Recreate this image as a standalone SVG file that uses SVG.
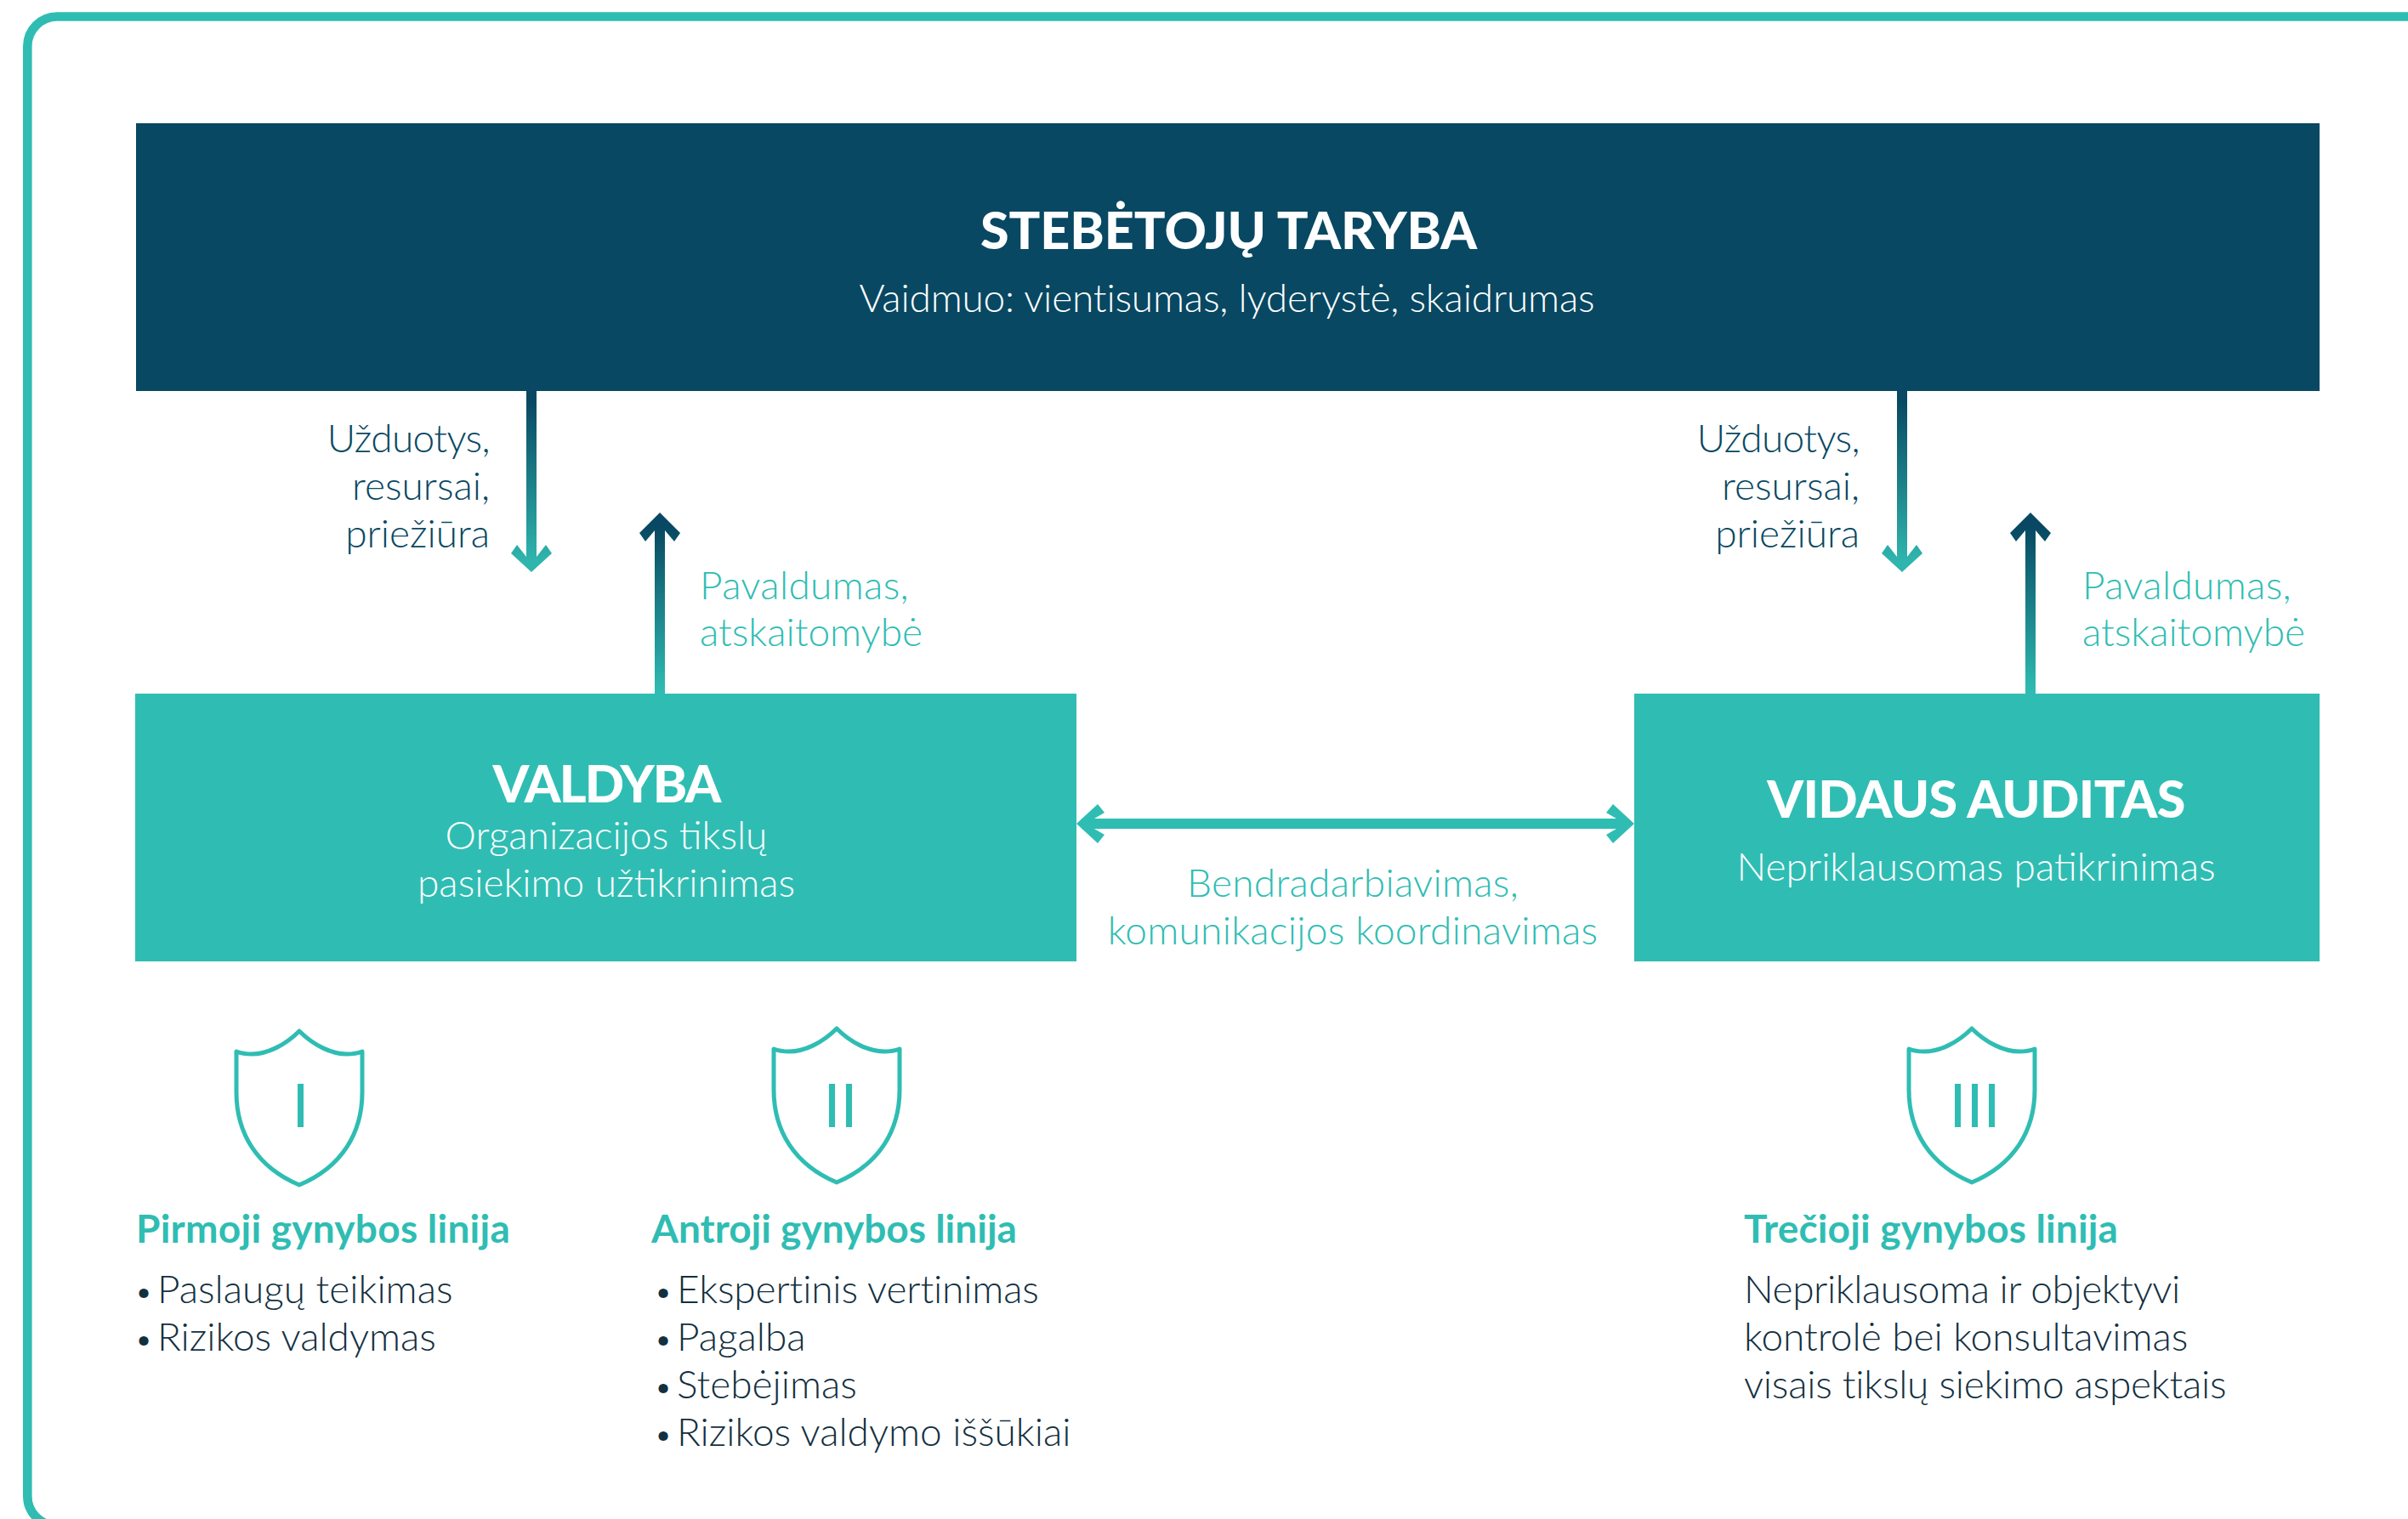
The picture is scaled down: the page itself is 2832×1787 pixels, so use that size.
<svg xmlns="http://www.w3.org/2000/svg" width="2832" height="1787" viewBox="0 0 2832 1787">
<style>
text{font-family:"Lato","Noto Sans",sans-serif;font-weight:300;font-size:46px}
.m{text-anchor:middle}.e{text-anchor:end}
.w{fill:#fff}.t{fill:#2fbdb3}.d{fill:#084862}.k{fill:#13303f}
.title{font-weight:900;font-size:61px}
.h{font-weight:700;font-size:46px}
.b{font-size:38px}
.shield{fill:none;stroke:#2fbdb3;stroke-width:5;stroke-linejoin:round}
</style>
<defs>
<linearGradient id="gd" gradientUnits="userSpaceOnUse" x1="0" y1="470" x2="0" y2="660"><stop offset="0" stop-color="#084862"/><stop offset="1" stop-color="#2fb5ad"/></linearGradient>
<linearGradient id="gu" gradientUnits="userSpaceOnUse" x1="0" y1="620" x2="0" y2="816"><stop offset="0" stop-color="#084862"/><stop offset="1" stop-color="#2fbdb3"/></linearGradient>
<path id="sh" class="shield" d="M0,0C-17,17-38,27-56,27C-63,27-69,26-74,24L-74,72C-74,120-50,160 0,181C50,160 74,120 74,72L74,24C69,26 63,27 56,27C38,27 17,17 0,0Z"/>
<path id="ad" fill="url(#gd)" d="M-6,460H6V655L17,641L24,651L0,673L-24,651L-17,641L-6,655Z"/>
<path id="au" fill="url(#gu)" d="M-6,816H6V624L17,637L24,627L0,603L-24,627L-17,637L-6,624Z"/>
</defs>
<rect width="2832" height="1787" fill="#fff"/>
<rect id="frame" x="32.3" y="19.5" width="2900" height="1775.5" rx="35" ry="35" fill="none" stroke="#2fbdb3" stroke-width="10.6"/>
<g id="connectors">
<use href="#ad" x="625"/>
<use href="#au" x="776"/>
<use href="#ad" x="2237"/>
<use href="#au" x="2388"/>
<path fill="#2fbdb3" d="M1266,969L1291,946L1299,956L1287,963H1901L1889,956L1897,946L1922,969L1897,992L1889,982L1901,975H1287L1299,982L1291,992Z"/>
</g>
<g id="labels">
<text class="d e"><tspan x="576" y="532" letter-spacing="-0.6">Užduotys,</tspan><tspan x="576" y="588">resursai,</tspan><tspan x="576" y="644">priežiūra</tspan></text>
<text class="d e"><tspan x="2187" y="532" letter-spacing="-0.6">Užduotys,</tspan><tspan x="2187" y="588">resursai,</tspan><tspan x="2187" y="644">priežiūra</tspan></text>
<text class="t"><tspan x="823" y="705" letter-spacing="0.33">Pavaldumas,</tspan><tspan x="823" y="760">atskaitomybė</tspan></text>
<text class="t"><tspan x="2449" y="705" letter-spacing="0.33">Pavaldumas,</tspan><tspan x="2449" y="760">atskaitomybė</tspan></text>
<text class="t m"><tspan x="1591" y="1055" letter-spacing="0.28">Bendradarbiavimas,</tspan><tspan x="1591" y="1111" letter-spacing="0.26">komunikacijos koordinavimas</tspan></text>
</g>
<g id="stebetoju-taryba">
<rect x="160" y="145" width="2568" height="315" fill="#084862"/>
<text class="w m title" x="1445" y="293">STEBĖTOJŲ TARYBA</text>
<text class="w m" x="1443" y="367" letter-spacing="-0.17">Vaidmuo: vientisumas, lyderystė, skaidrumas</text>
</g>
<g id="valdyba">
<rect x="159" y="816" width="1107" height="315" fill="#2fbdb3"/>
<text class="w m title" x="713" y="944" letter-spacing="-1.9">VALDYBA</text>
<text class="w m"><tspan x="713" y="999">Organizacijos tikslų</tspan><tspan x="713" y="1055">pasiekimo užtikrinimas</tspan></text>
</g>
<g id="vidaus-auditas">
<rect x="1922" y="816" width="806" height="315" fill="#2fbdb3"/>
<text class="w m title" x="2324" y="962" letter-spacing="-0.65">VIDAUS AUDITAS</text>
<text class="w m" x="2324" y="1036">Nepriklausomas patikrinimas</text>
</g>
<g id="line-1">
<use href="#sh" x="352" y="1213"/>
<rect x="350" y="1275" width="7" height="51" fill="#2fbdb3"/>
<text class="t h" x="160" y="1462" letter-spacing="0.25">Pirmoji gynybos linija</text>
<text class="k"><tspan class="b" x="158" y="1533">•</tspan><tspan x="185" y="1533">Paslaugų teikimas</tspan><tspan class="b" x="158" y="1589">•</tspan><tspan x="185" y="1589">Rizikos valdymas</tspan></text>
</g>
<g id="line-2">
<use href="#sh" x="984" y="1210"/>
<rect x="975" y="1275" width="7" height="51" fill="#2fbdb3"/>
<rect x="995" y="1275" width="7" height="51" fill="#2fbdb3"/>
<text class="t h" x="766" y="1462">Antroji gynybos linija</text>
<text class="k"><tspan class="b" x="769" y="1533">•</tspan><tspan x="796" y="1533" letter-spacing="-0.15">Ekspertinis vertinimas</tspan><tspan class="b" x="769" y="1589">•</tspan><tspan x="796" y="1589">Pagalba</tspan><tspan class="b" x="769" y="1645">•</tspan><tspan x="796" y="1645">Stebėjimas</tspan><tspan class="b" x="769" y="1701">•</tspan><tspan x="796" y="1701">Rizikos valdymo iššūkiai</tspan></text>
</g>
<g id="line-3">
<use href="#sh" x="2319" y="1210"/>
<rect x="2299" y="1275" width="7" height="51" fill="#2fbdb3"/>
<rect x="2319" y="1275" width="7" height="51" fill="#2fbdb3"/>
<rect x="2339" y="1275" width="7" height="51" fill="#2fbdb3"/>
<text class="t h" x="2051" y="1462" letter-spacing="0.15">Trečioji gynybos linija</text>
<text class="k"><tspan x="2051" y="1533" letter-spacing="-0.42">Nepriklausoma ir objektyvi</tspan><tspan x="2051" y="1589">kontrolė bei konsultavimas</tspan><tspan x="2051" y="1645" letter-spacing="-0.24">visais tikslų siekimo aspektais</tspan></text>
</g>
</svg>
